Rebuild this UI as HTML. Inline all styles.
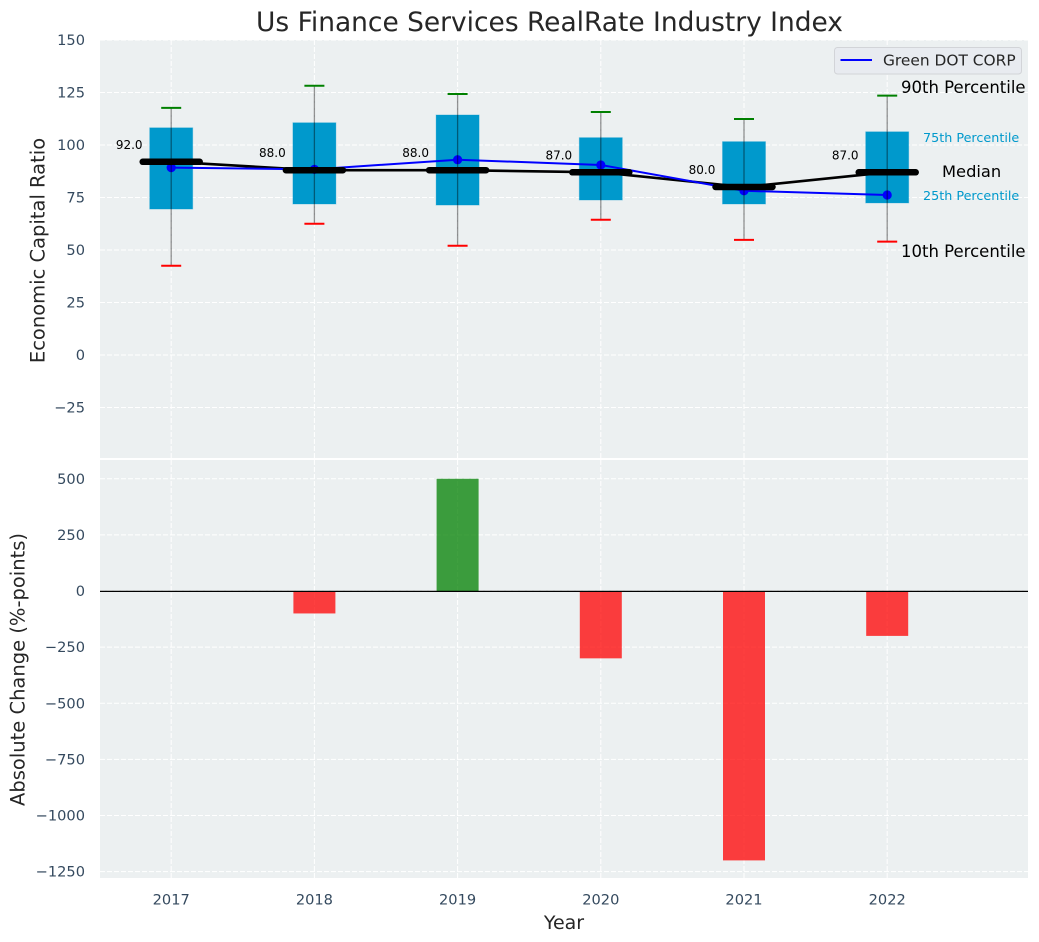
<!DOCTYPE html>
<html lang="en">
<head>
<meta charset="utf-8">
<title>Us Finance Services RealRate Industry Index</title>
<style>
html,body{margin:0;padding:0;background:#fff;width:1039px;height:942px;overflow:hidden}
svg{display:block;font-family:"DejaVu Sans","Liberation Sans",sans-serif}
</style>
</head>
<body>
<svg id="chart" xmlns="http://www.w3.org/2000/svg" width="1039" height="942" viewBox="0 0 1039 942">
  <text x="549.5" y="31" text-anchor="middle" font-size="26.45" fill="#262626">Us Finance Services RealRate Industry Index</text>
  <rect x="100" y="40" width="928" height="418" fill="#ecf0f1"/>
  <rect x="100" y="460" width="928" height="418" fill="#ecf0f1"/>
  <g id="grid"></g>
  <g id="ticks"></g>
  <text transform="translate(44.5,250.5) rotate(-90)" text-anchor="middle" font-size="19.5" fill="#262626">Economic Capital Ratio</text>
  <text transform="translate(24.5,669.5) rotate(-90)" text-anchor="middle" font-size="19.5" fill="#262626">Absolute Change (%-points)</text>
  <text x="564" y="929" text-anchor="middle" font-size="19" fill="#262626">Year</text>
  <g id="bars"></g>
  <g id="boxes"></g>
  <g>
    <rect x="834.5" y="47.5" width="187" height="26.5" rx="3" fill="#e8ebf0" stroke="#d2d4d8" stroke-width="1"/>
    <line x1="840.5" y1="60" x2="872" y2="60" stroke="#0000ff" stroke-width="2"/>
    <text x="883" y="65.5" font-size="15.4" fill="#262626">Green DOT CORP</text>
  </g>
  <g>
    <text x="901" y="93" font-size="16.5" fill="#000">90th Percentile</text>
    <text x="923" y="142" font-size="12.75" fill="#0099cc">75th Percentile</text>
    <text x="942" y="177" font-size="16.3" fill="#000">Median</text>
    <text x="923" y="200" font-size="12.75" fill="#0099cc">25th Percentile</text>
    <text x="901" y="257" font-size="16.5" fill="#000">10th Percentile</text>
  </g>
</svg>
<script>
const years = [2017, 2018, 2019, 2020, 2021, 2022];
const p90 = [117.7, 128.2, 124.3, 115.7, 112.4, 123.5];
const p75 = [108.2, 110.6, 114.3, 103.5, 101.6, 106.3];
const medians = [92, 88, 88, 87, 80, 87];
const p25 = [69.5, 71.9, 71.4, 73.8, 71.9, 72.4];
const p10 = [42.5, 62.5, 52, 64.4, 54.8, 54];
const companyValues = [89.2, 88.4, 93, 90.5, 78.2, 76.2];
const changeValues = [0, -100, 500, -300, -1200, -200];
const topTicks = [-25, 0, 25, 50, 75, 100, 125, 150];
const bottomTicks = [-1250, -1000, -750, -500, -250, 0, 250, 500];

const NS = 'http://www.w3.org/2000/svg';
const xScale = v => 171.2 + (v - 2017) * 143.2;
const yTop = v => 355 - v * 2.1;
const yBottom = v => 591 - v * 0.2245;

function shape(parent, tag, attrs) {
  const el = document.createElementNS(NS, tag);
  for (const k in attrs) el.setAttribute(k, attrs[k]);
  parent.appendChild(el);
  return el;
}
function fmt(v) { return String(v).replace('-', '\u2212'); }
function pts(xs, ys) { return xs.map((x, i) => xScale(x) + ',' + yTop(ys[i])).join(' '); }

const grid = document.getElementById('grid');
const ticks = document.getElementById('ticks');
const bars = document.getElementById('bars');
const boxes = document.getElementById('boxes');
const gridStyle = { stroke: '#ffffff', 'stroke-width': 1, 'stroke-dasharray': '5 2', fill: 'none' };

topTicks.forEach(t => {
  const y = yTop(t);
  const line = shape(grid, 'line', Object.assign({ x1: 100, x2: 1028, y1: y, y2: y }, gridStyle));
  
  
  const label = shape(ticks, 'text', { x: 85, y: y + 5, 'text-anchor': 'end', 'font-size': 14.6, fill: '#34495e' });
  label.textContent = fmt(t);
  
  
});

bottomTicks.forEach(t => {
  const y = yBottom(t);
  const line = shape(grid, 'line', Object.assign({ x1: 100, x2: 1028, y1: y, y2: y }, gridStyle));
  
  
  const label = shape(ticks, 'text', { x: 85, y: y + 5, 'text-anchor': 'end', 'font-size': 14.6, fill: '#34495e' });
  label.textContent = fmt(t);
  
  
});

years.forEach(yr => {
  const x = xScale(yr);
  const v1 = shape(grid, 'line', Object.assign({ x1: x, x2: x, y1: 40, y2: 458 }, gridStyle));
  
  
  const v2 = shape(grid, 'line', Object.assign({ x1: x, x2: x, y1: 460, y2: 878 }, gridStyle));
  
  
  const label = shape(ticks, 'text', { x: x, y: 904.5, 'text-anchor': 'middle', 'font-size': 14.6, fill: '#34495e' });
  label.textContent = yr;
  
  
});

years.forEach((yr, i) => {
  const v = changeValues[i];
  if (v === 0) return;
  const y0 = yBottom(0), y1 = yBottom(v);
  const bar = shape(bars, 'rect', {
    x: xScale(yr) - 21, y: Math.min(y0, y1), width: 42, height: Math.abs(y1 - y0),
    fill: v > 0 ? '#008000' : '#ff0000', 'fill-opacity': 0.75
  });
  
  
});
const zero = shape(bars, 'line', { x1: 100, x2: 1028, y1: yBottom(0) + 0.4, y2: yBottom(0) + 0.4, stroke: '#000', 'stroke-width': 1.3 });



years.forEach((yr, i) => {
  const x = xScale(yr);
  const box = shape(boxes, 'rect', {
    x: x - 21.5, y: yTop(p75[i]), width: 43, height: yTop(p25[i]) - yTop(p75[i]),
    fill: '#0099cc', stroke: '#0099cc', 'stroke-opacity': 0.3, 'stroke-width': 1
  });
  
  
});

const medianLine = shape(boxes, 'polyline', { points: pts(years, medians), fill: 'none', stroke: '#000', 'stroke-width': 2.6 });



const companyLine = shape(boxes, 'polyline', { points: pts(years, companyValues), fill: 'none', stroke: '#0000ff', 'stroke-width': 2 });



years.forEach((yr, i) => {
  const dot = shape(boxes, 'circle', { cx: xScale(yr), cy: yTop(companyValues[i]), r: 4.6, fill: '#0000ff' });
  
  
});

years.forEach((yr, i) => {
  const x = xScale(yr);
  const whisker = shape(boxes, 'line', { x1: x, x2: x, y1: yTop(p90[i]), y2: yTop(p10[i]), stroke: '#000', 'stroke-opacity': 0.42, 'stroke-width': 1.3 });
  
  
  const capHigh = shape(boxes, 'line', { x1: x - 10, x2: x + 10, y1: yTop(p90[i]), y2: yTop(p90[i]), stroke: '#008000', 'stroke-width': 2 });
  
  
  const capLow = shape(boxes, 'line', { x1: x - 10, x2: x + 10, y1: yTop(p10[i]), y2: yTop(p10[i]), stroke: '#ff0000', 'stroke-width': 2 });
  
  
  const med = shape(boxes, 'line', { x1: x - 28.5, x2: x + 28.5, y1: yTop(medians[i]), y2: yTop(medians[i]), stroke: '#000', 'stroke-width': 6.5, 'stroke-linecap': 'round' });
  
  
  const label = shape(boxes, 'text', { x: x - 42, y: yTop(medians[i]) - 13, 'text-anchor': 'middle', 'font-size': 12, fill: '#000' });
  label.textContent = medians[i].toFixed(1);
  
  
});
</script>
</body>
</html>
